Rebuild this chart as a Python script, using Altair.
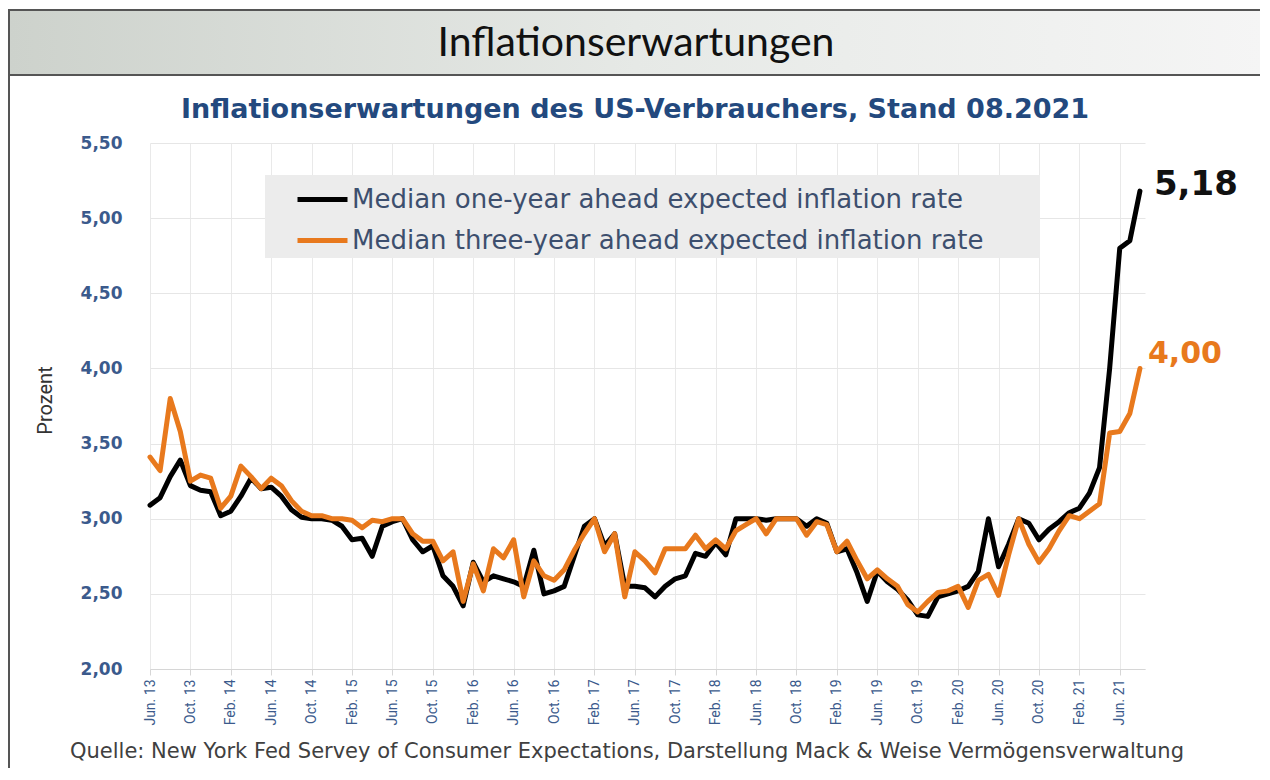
import altair as alt
import pandas as pd

# ---------------- data ----------------
series_names = [
    "Median one-year ahead expected inflation rate",
    "Median three-year ahead expected inflation rate",
]
series_colors = ["#000000", "#E8791D"]

tick_labels = ["Jun. 13", "Oct. 13", "Feb. 14", "Jun. 14", "Oct. 14", "Feb. 15", "Jun. 15",
               "Oct. 15", "Feb. 16", "Jun. 16", "Oct. 16", "Feb. 17", "Jun. 17", "Oct. 17",
               "Feb. 18", "Jun. 18", "Oct. 18", "Feb. 19", "Jun. 19", "Oct. 19", "Feb. 20",
               "Jun. 20", "Oct. 20", "Feb. 21", "Jun. 21"]

# monthly values Jun 2013 .. Aug 2021
one_year = [
    3.09, 3.14, 3.28, 3.39, 3.22, 3.19, 3.18, 3.02, 3.05, 3.15,
    3.27, 3.20, 3.21, 3.15, 3.06, 3.01, 3.00, 3.00, 2.99, 2.95,
    2.86, 2.87, 2.75, 2.95, 2.98, 3.00, 2.86, 2.78, 2.82, 2.62,
    2.55, 2.42, 2.71, 2.58, 2.62, 2.60, 2.58, 2.55, 2.79, 2.50,
    2.52, 2.55, 2.75, 2.95, 3.00, 2.82, 2.90, 2.55, 2.55, 2.54,
    2.48, 2.55, 2.60, 2.62, 2.77, 2.75, 2.84, 2.76, 3.00, 3.00,
    3.00, 2.99, 3.00, 3.00, 3.00, 2.95, 3.00, 2.97, 2.78, 2.80,
    2.64, 2.45, 2.65, 2.58, 2.53, 2.46, 2.36, 2.35, 2.48, 2.50,
    2.52, 2.55, 2.65, 3.00, 2.68, 2.83, 3.00, 2.97, 2.86, 2.93,
    2.98, 3.04, 3.07, 3.17, 3.34, 4.00, 4.80, 4.85, 5.18,
]
three_year = [
    3.41, 3.32, 3.80, 3.58, 3.25, 3.29, 3.27, 3.07, 3.15, 3.35,
    3.28, 3.20, 3.27, 3.22, 3.12, 3.05, 3.02, 3.02, 3.00, 3.00,
    2.99, 2.94, 2.99, 2.98, 3.00, 3.00, 2.90, 2.85, 2.85, 2.72,
    2.78, 2.45, 2.70, 2.52, 2.80, 2.74, 2.86, 2.48, 2.72, 2.62,
    2.59, 2.66, 2.79, 2.90, 3.00, 2.78, 2.90, 2.48, 2.78, 2.72,
    2.64, 2.80, 2.80, 2.80, 2.89, 2.80, 2.86, 2.80, 2.92, 2.96,
    3.00, 2.90, 3.00, 3.00, 3.00, 2.89, 2.98, 2.96, 2.78, 2.85,
    2.72, 2.60, 2.66, 2.60, 2.55, 2.43, 2.38, 2.45, 2.51, 2.52,
    2.55, 2.41, 2.59, 2.63, 2.49, 2.76, 3.00, 2.83, 2.71, 2.80,
    2.92, 3.02, 3.00, 3.05, 3.10, 3.57, 3.58, 3.70, 4.00,
]

y_ticks = [2.0, 2.5, 3.0, 3.5, 4.0, 4.5, 5.0, 5.5]

title_text = "Inflationserwartungen"
subtitle_text = "Inflationserwartungen des US-Verbrauchers, Stand 08.2021"
source_text = "Quelle: New York Fed Servey of Consumer Expectations, Darstellung Mack & Weise Vermögensverwaltung"
y_title = "Prozent"

# ---------------- frames ----------------
n = len(one_year)
df = pd.DataFrame({
    "idx": list(range(n)) * 2,
    "value": one_year + three_year,
    "series": [series_names[0]] * n + [series_names[1]] * n,
})

def de(v):
    return f"{v:.2f}".replace(".", ",")

end_df = pd.DataFrame({
    "idx": [n - 1, n - 1],
    "value": [one_year[-1], three_year[-1]],
    "label": [de(one_year[-1]), de(three_year[-1])],
    "series": series_names,
})

label_array = "[" + ",".join(f"'{t}'" for t in tick_labels) + "]"

W, H = 995, 526
color_scale = alt.Scale(domain=series_names, range=series_colors)

x_enc = alt.X(
    "idx:Q",
    scale=alt.Scale(domain=[0, 98.5], nice=False, zero=False),
    axis=alt.Axis(
        values=list(range(0, 4 * len(tick_labels), 4)),
        labelExpr=f"{label_array}[round(datum.value/4)]",
        title=None,
        labelAngle=-90,
        labelFont="Liberation Sans Narrow, Roboto, Liberation Sans",
        labelFontSize=14,
        labelColor="#3b5a8c",
        labelPadding=4,
        grid=True,
        gridColor="#e9e9e9",
        domainColor="#d6d6d6",
        tickColor="#d6d6d6",
        tickSize=6,
    ),
)
y_enc = alt.Y(
    "value:Q",
    scale=alt.Scale(domain=[2, 5.5], nice=False, zero=False),
    axis=alt.Axis(
        values=y_ticks,
        labelExpr="replace(format(datum.value, '.2f'), '.', ',')",
        title=y_title,
        titleFont="Liberation Sans Narrow, Roboto, Liberation Sans",
        titleFontSize=20,
        titleFontWeight="normal",
        titleColor="#333333",
        titleAngle=-90,
        titleX=-95,
        titleY=H / 2 - 6,
        titleAlign="center",
        titleBaseline="bottom",
        labelFont="DejaVu Sans",
        labelFontWeight="bold",
        labelFontSize=17,
        labelColor="#3b5a8c",
        labelPadding=28,
        grid=True,
        gridColor="#e6e6e6",
        domain=False,
        ticks=False,
    ),
)

# background decorations
one = pd.DataFrame({"k": [0]})
frame = alt.Chart(one).mark_rect(fillOpacity=0, stroke="#555555", strokeWidth=2).encode(
    x=alt.value(-141), x2=alt.value(1113), y=alt.value(-133), y2=alt.value(700))
band = alt.Chart(one).mark_rect(
    color=alt.Gradient(gradient="linear",
                       stops=[alt.GradientStop(color="#cdd2cc", offset=0),
                              alt.GradientStop(color="#e6e9e6", offset=0.5),
                              alt.GradientStop(color="#f5f5f5", offset=1)],
                       x1=0, x2=1, y1=0, y2=0),
    stroke="#555555", strokeWidth=2,
).encode(x=alt.value(-141), x2=alt.value(1113), y=alt.value(-133), y2=alt.value(-68))
legend_bg = alt.Chart(one).mark_rect(fill="#ececec").encode(
    x=alt.value(115), x2=alt.value(890), y=alt.value(32), y2=alt.value(115))

title = alt.Chart(pd.DataFrame({"t": [title_text]})).mark_text(
    font="Lato", fontSize=41, color="#111111", baseline="middle", align="center"
).encode(text="t:N", x=alt.value(486), y=alt.value(-99))
subtitle = alt.Chart(pd.DataFrame({"t": [subtitle_text]})).mark_text(
    font="DejaVu Sans", fontWeight="bold", fontSize=27, color="#23497e", baseline="middle", align="center"
).encode(text="t:N", x=alt.value(485), y=alt.value(-33))
source = alt.Chart(pd.DataFrame({"t": [source_text]})).mark_text(
    font="DejaVu Sans", fontSize=21, color="#404040", baseline="middle", align="center"
).encode(text="t:N", x=alt.value(477), y=alt.value(609))

base = alt.Chart(df)
line1 = base.transform_filter(alt.datum.series == series_names[0]).mark_line(
    strokeWidth=5, strokeJoin="round", strokeCap="round"
).encode(
    x=x_enc, y=y_enc,
    color=alt.Color("series:N", scale=color_scale, legend=alt.Legend(
        orient="none", legendX=145, legendY=29, title=None, padding=0,
        symbolType="stroke", symbolStrokeWidth=5, symbolSize=2500,
        labelFont="DejaVu Sans", labelFontSize=26, labelColor="#3d4f6e",
        labelLimit=1000, rowPadding=-8, labelOffset=2,
    )),
)
line2 = base.transform_filter(alt.datum.series == series_names[1]).mark_line(
    strokeWidth=5, strokeJoin="round", strokeCap="round"
).encode(x="idx:Q", y="value:Q", color=alt.Color("series:N", scale=color_scale))

end1 = alt.Chart(end_df).transform_filter(alt.datum.series == series_names[0]).mark_text(
    font="DejaVu Sans", fontWeight="bold", fontSize=34, color="#111111",
    align="left", baseline="middle", dx=14, dy=-6
).encode(x="idx:Q", y="value:Q", text="label:N")
end2 = alt.Chart(end_df).transform_filter(alt.datum.series == series_names[1]).mark_text(
    font="DejaVu Sans", fontWeight="bold", fontSize=30, color="#E8791D",
    align="left", baseline="middle", dx=8, dy=-14
).encode(x="idx:Q", y="value:Q", text="label:N")

chart = alt.layer(
    frame, band, title, subtitle, source, legend_bg, line1, line2, end1, end2
).properties(
    width=W, height=H,
    padding={"left": 142, "top": 135, "right": 115, "bottom": 99},
    autosize=alt.AutoSizeParams(type="none"),
    background="white",
).configure_view(strokeWidth=0)

chart.save("out.html", embed_options={"renderer": "svg", "actions": False})
